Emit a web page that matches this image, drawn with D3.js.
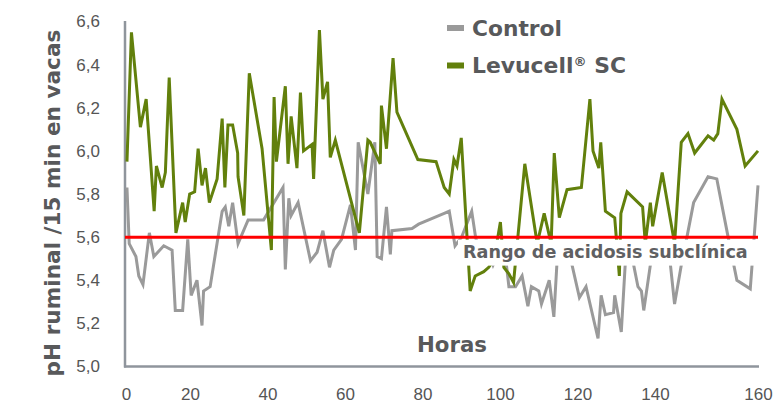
<!DOCTYPE html>
<html>
<head>
<meta charset="utf-8">
<script src="https://cdn.jsdelivr.net/npm/d3@7"></script>
<style>
  body { margin: 0; background: #fff; }
  svg { display: block; }
</style>
</head>
<body>
<svg id="chart" width="773" height="403"></svg>
<script>
// values (hours, pH)
const hoursControl = [0.3,1.0,3.1,4.0,5.3,7.3,8.7,11.8,14.4,15.4,17.7,19.3,20.3,21.8,23.1,23.5,25.2,28.3,29.1,30.0,31.0,32.4,35.0,39.0,44.0,44.6,45.5,46.1,47.9,51.1,52.8,54.3,56.0,57.1,59.1,61.4,62.7,63.4,65.9,67.7,68.3,69.4,70.7,71.7,72.1,77.3,79.0,85.6,86.9,88.4,90.1,92.7,93.7,94.8,96.4,98.2,99.7,101.6,102.3,104.0,105.7,107.2,108.1,110.0,110.7,112.7,113.9,114.7,116.0,117.3,118.6,120.5,122.2,125.3,126.1,127.2,129.3,129.6,131.3,132.3,133.3,134.5,135.6,136.5,137.1,138.8,140.0,141.0,141.9,143.0,143.8,145.1,146.2,147.5,150.3,152.0,154.2,155.9,158.5,160.0];
const phControl = [5.83,5.57,5.51,5.42,5.38,5.62,5.51,5.56,5.54,5.26,5.26,5.59,5.33,5.40,5.19,5.35,5.37,5.72,5.74,5.65,5.76,5.57,5.68,5.68,5.83,5.45,5.78,5.70,5.76,5.49,5.53,5.63,5.46,5.54,5.59,5.75,5.54,6.04,5.80,6.04,5.51,5.50,5.74,5.52,5.63,5.64,5.66,5.71,5.72,5.56,5.60,5.72,5.60,5.52,5.55,5.47,5.53,5.48,5.37,5.37,5.42,5.28,5.37,5.35,5.29,5.40,5.23,5.48,5.56,5.52,5.47,5.32,5.37,5.13,5.33,5.24,5.25,5.33,5.16,5.47,5.55,5.47,5.37,5.35,5.26,5.47,5.55,5.50,5.56,5.47,5.29,5.47,5.60,5.76,5.88,5.87,5.60,5.40,5.36,5.84];

const hoursLevucell = [0.3,1.7,4.5,6.3,8.8,9.5,11.3,12.3,13.5,15.6,17.7,18.5,19.9,21.2,22.1,23.1,24.0,25.0,27.0,28.3,29.0,29.8,31.0,32.3,32.4,33.9,35.3,38.6,41.0,41.7,42.3,44.6,45.3,46.1,47.6,48.5,49.3,51.5,51.9,53.4,54.3,55.5,56.2,57.5,63.7,65.9,66.5,69.1,69.4,70.7,72.4,73.4,78.8,83.5,85.6,86.9,88.1,88.9,90.0,92.3,93.6,95.8,97.1,98.5,100.1,101.0,102.3,103.5,106.4,109.6,111.4,113.2,114.0,115.3,117.3,121.0,123.2,124.0,125.5,126.0,127.2,129.6,130.8,131.2,132.8,136.8,137.5,138.8,139.4,141.4,143.8,145.1,146.4,147.7,150.3,151.4,152.2,153.0,155.9,157.5,160.0];
const phLevucell = [5.95,6.55,6.11,6.24,5.72,5.93,5.83,5.90,6.34,5.62,5.76,5.67,5.80,5.81,6.01,5.84,5.92,5.76,5.87,6.15,5.83,6.12,6.12,5.99,5.88,5.70,6.36,6.01,5.54,6.25,5.95,6.30,5.94,6.16,5.92,6.27,6.00,6.03,5.87,6.56,6.24,6.32,5.97,6.05,5.62,6.05,6.04,5.94,6.21,6.01,6.43,6.18,5.96,5.95,5.83,5.80,5.96,5.93,6.06,5.35,5.42,5.44,5.46,5.50,5.67,5.46,5.43,5.39,5.94,5.57,5.71,5.57,5.99,5.69,5.82,5.83,6.24,6.00,5.92,6.04,5.72,5.69,5.42,5.71,5.81,5.74,5.57,5.76,5.65,5.90,5.57,6.04,6.08,5.99,6.07,6.05,6.08,6.24,6.10,5.93,6.00];

const xTicks = [0, 20, 40, 60, 80, 100, 120, 140, 160];
const yTicks = [5.0, 5.2, 5.4, 5.6, 5.8, 6.0, 6.2, 6.4, 6.6];
const acidosisLimit = 5.6;

const seriesNames = ["Control", "Levucell"];
const seriesColors = { Control: "#9a9a9a", Levucell: "#62800c" };

const svg = d3.select("#chart");

// label spacing in the source isn't even, so the x scale is piecewise
const xscale = d3.scaleLinear()
    .domain([0, 20, 140, 160])
    .range([126, 190, 655, 758]);
const yscale = d3.scaleLinear()
    .domain([5.0, 6.6])
    .range([366.5, 21.5]);

const axisColor = "#8f959c";
const textColor = "#58595b";

// axes
let yaxis = d3.axisLeft(yscale)
    .tickValues(yTicks)
    .tickSize(0)
    .tickPadding(25)
    .tickFormat(d => d.toFixed(1).replace(".", ","));
let xaxis = d3.axisBottom(xscale)
    .tickValues(xTicks)
    .tickSize(0)
    .tickPadding(21)
    .tickFormat(d => d);

function styleAxis(g) {
    g.select(".domain").attr("stroke", axisColor).attr("stroke-width", 2.5);
    g.selectAll("text")
        .attr("font-family", "Liberation Sans, Arial, sans-serif")
        .attr("font-size", 17)
        .attr("fill", "#555");
}

svg.append("g")
    .attr("transform", "translate(125,0)")
    .call(yaxis)
    .call(g => g.select(".domain").attr("d", "M0,21H0V367.5"))
    .call(styleAxis);
svg.append("g")
    .attr("transform", "translate(0,366.5)")
    .call(xaxis)
    .call(g => g.select(".domain").attr("d", "M124,0H759"))
    .call(styleAxis);

// series lines
const line = d3.line()
    .x(d => xscale(d[0]))
    .y(d => yscale(d[1]));

const seriesData = {
    Control: d3.zip(hoursControl, phControl),
    Levucell: d3.zip(hoursLevucell, phLevucell)
};

svg.selectAll(".series")
    .data(seriesNames)
    .enter()
    .append("path")
    .attr("class", "series")
    .attr("d", d => line(seriesData[d]))
    .attr("fill", "none")
    .attr("stroke", d => seriesColors[d])
    .attr("stroke-width", 3);

// subclinical acidosis threshold
svg.append("line")
    .attr("x1", xscale(0) - 1)
    .attr("x2", xscale(160))
    .attr("y1", yscale(acidosisLimit))
    .attr("y2", yscale(acidosisLimit))
    .attr("stroke", "#ff0000")
    .attr("stroke-width", 3);

svg.append("rect")
    .attr("x", 458)
    .attr("y", yscale(acidosisLimit) + 2.5)
    .attr("width", 298)
    .attr("height", 26)
    .attr("fill", "#fff");

function fitText(sel, w) {
    let len = sel.node().getComputedTextLength();
    let fs = parseFloat(sel.attr("font-size"));
    sel.attr("font-size", fs * w / len);
}

const boldFont = "DejaVu Sans, Verdana, sans-serif";

svg.append("text")
    .attr("x", 463)
    .attr("y", 258)
    .attr("font-family", boldFont)
    .attr("font-weight", "bold")
    .attr("font-size", 15)
    .attr("fill", "#5f6062")
    .text("Rango de acidosis subclínica")
    .call(fitText, 285);

// axis titles
svg.append("text")
    .attr("x", 452)
    .attr("y", 352)
    .attr("text-anchor", "middle")
    .attr("font-family", boldFont)
    .attr("font-weight", "bold")
    .attr("font-size", 20)
    .attr("fill", textColor)
    .text("Horas")
    .call(fitText, 70);

svg.append("text")
    .attr("transform", "translate(60,203) rotate(-90)")
    .attr("text-anchor", "middle")
    .attr("font-family", boldFont)
    .attr("font-weight", "bold")
    .attr("font-size", 20)
    .attr("fill", textColor)
    .text("pH ruminal /15 min en vacas")
    .call(fitText, 347);

// legend
const legend = svg.append("g");
legend.selectAll("rect")
    .data(seriesNames)
    .enter()
    .append("rect")
    .attr("x", 447)
    .attr("y", (d, i) => 25 + i * 37.5)
    .attr("width", 17)
    .attr("height", 6)
    .attr("fill", d => seriesColors[d]);

legend.append("text")
    .attr("x", 472)
    .attr("y", 36)
    .attr("font-family", boldFont)
    .attr("font-weight", "bold")
    .attr("font-size", 20)
    .attr("fill", textColor)
    .text("Control")
    .call(fitText, 90);

let lev = legend.append("text")
    .attr("x", 472)
    .attr("y", 72.5)
    .attr("font-family", boldFont)
    .attr("font-weight", "bold")
    .attr("font-size", 20)
    .attr("fill", textColor);
lev.append("tspan").text("Levucell");
lev.append("tspan").attr("font-size", "0.6em").attr("dy", -7).text("®");
lev.append("tspan").attr("dy", 7).text(" SC");
lev.call(fitText, 154);
</script>
</body>
</html>
